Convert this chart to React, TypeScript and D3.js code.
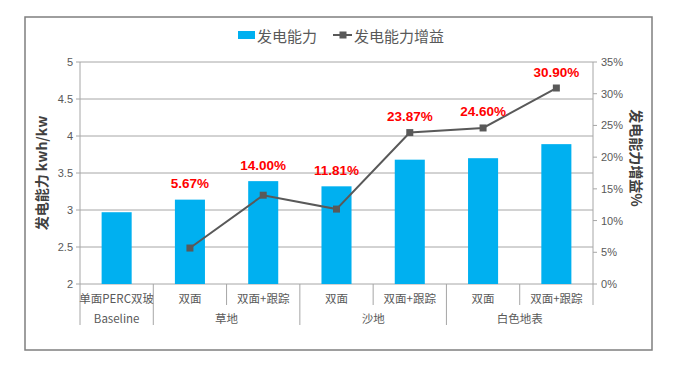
import React from 'react';
import * as d3 from 'd3';

// chart data
const categories = ['单面PERC双玻', '双面', '双面+跟踪', '双面', '双面+跟踪', '双面', '双面+跟踪'];
const groupNames = ['Baseline', '草地', '沙地', '白色地表'];
const groupSpans = [1, 2, 2, 2];
const capability = [2.97, 3.14, 3.39, 3.32, 3.68, 3.70, 3.89];
// gain starts at the second category (baseline has none)
const gain: (number | null)[] = [null, 5.67, 14.0, 11.81, 23.87, 24.6, 30.9];
const leftTicks = [2, 2.5, 3, 3.5, 4, 4.5, 5];
const rightTicks = [0, 5, 10, 15, 20, 25, 30, 35];

const W = 674;
const H = 368;
const plot = { left: 80, right: 593, top: 62, bottom: 284 };

const BLUE = '#00B0F0';
const GREY = '#595959';
const GRID = '#A6A6A6';
const FONT = '"Liberation Sans", Arial, "Noto Sans CJK SC", sans-serif';
const CJK = '"Noto Sans CJK SC", "Liberation Sans", sans-serif';

export default function App() {
    const x = d3.scaleBand<number>()
        .domain(d3.range(categories.length))
        .range([plot.left, plot.right])
        .paddingInner(0.59)
        .paddingOuter(0.295);
    const step = x.step();
    const cx = (i: number) => (x(i) as number) + x.bandwidth() / 2;

    const yL = d3.scaleLinear().domain([2, 5]).range([plot.bottom, plot.top]);
    const yR = d3.scaleLinear().domain([0, 35]).range([plot.bottom, plot.top]);

    const linePts = gain
        .map((g, i) => ({ i, g }))
        .filter(d => d.g !== null) as { i: number; g: number }[];

    const line = d3.line<{ i: number; g: number }>()
        .x(d => cx(d.i))
        .y(d => yR(d.g));

    // group boundaries (category index where each group starts)
    const groupStarts = groupSpans.map((_, k) => d3.sum(groupSpans.slice(0, k)));
    const boundaryX = (idx: number) => plot.left + idx * step;

    return (
        <div style={{ position: 'absolute', left: 0, top: 0 }}>
            <svg width={W} height={H} style={{ display: 'block', background: '#fff' }}>
                {/* outer frame */}
                <rect x={25} y={17} width={627} height={333} fill="none" stroke="#7F7F7F" strokeWidth={1.5} />

                {/* legend */}
                <g fontFamily={CJK} fontSize={15} fill={GREY}>
                    <rect x={238} y={31} width={17} height={8} fill={BLUE} />
                    <text x={257} y={35} dominantBaseline="central">发电能力</text>
                    <line x1={333} x2={352} y1={35} y2={35} stroke={GREY} strokeWidth={2} />
                    <rect x={339.5} y={31.5} width={7} height={7} fill={GREY} />
                    <text x={354} y={35} dominantBaseline="central">发电能力增益</text>
                </g>

                {/* gridlines */}
                {leftTicks.map(t => (
                    <line key={'g' + t} x1={plot.left} x2={plot.right} y1={yL(t)} y2={yL(t)}
                        stroke={GRID} strokeWidth={1} />
                ))}

                {/* left axis */}
                <line x1={plot.left} x2={plot.left} y1={plot.top} y2={325} stroke={GRID} />
                {leftTicks.map(t => (
                    <g key={'l' + t}>
                        <line x1={plot.left - 4} x2={plot.left} y1={yL(t)} y2={yL(t)} stroke={GRID} />
                        <text x={plot.left - 7} y={yL(t)} textAnchor="end" dominantBaseline="central"
                            fontFamily={FONT} fontSize={11} fill={GREY}>{t}</text>
                    </g>
                ))}
                <text transform={`translate(41,${(plot.top + plot.bottom) / 2}) rotate(-90)`}
                    textAnchor="middle" dominantBaseline="central" fontFamily={CJK} fontWeight="bold"
                    fontSize={14} fill="#404040">发电能力 kwh/kw</text>

                {/* right axis */}
                <line x1={plot.right} x2={plot.right} y1={plot.top} y2={305} stroke={GRID} />
                {rightTicks.map(t => (
                    <g key={'r' + t}>
                        <line x1={plot.right} x2={plot.right + 4} y1={yR(t)} y2={yR(t)} stroke={GRID} />
                        <text x={plot.right + 8} y={yR(t)} dominantBaseline="central"
                            fontFamily={FONT} fontSize={11} fill={GREY}>{t}%</text>
                    </g>
                ))}
                <text transform={`translate(637,158) rotate(90)`}
                    textAnchor="middle" dominantBaseline="central" fontFamily={CJK} fontWeight="bold"
                    fontSize={14} fill="#404040">发电能力增益%</text>

                {/* bars */}
                {capability.map((v, i) => (
                    <rect key={'b' + i} x={x(i)} y={yL(v)} width={x.bandwidth()} height={yL(2) - yL(v)} fill={BLUE} />
                ))}

                {/* category axis: first row */}
                {categories.map((c, i) => (
                    <text key={'c' + i} x={cx(i)} y={298} textAnchor="middle" dominantBaseline="central"
                        fontFamily={CJK} fontSize={11.5} fill={GREY}>{c}</text>
                ))}
                {d3.range(1, categories.length).map(i => (
                    groupStarts.includes(i) ? null :
                        <line key={'s' + i} x1={boundaryX(i)} x2={boundaryX(i)} y1={plot.bottom} y2={305} stroke={GRID} />
                ))}
                {/* second row: groups */}
                {groupNames.map((g, k) => {
                    const a = boundaryX(groupStarts[k]);
                    const b = boundaryX(groupStarts[k] + groupSpans[k]);
                    return (
                        <g key={'gr' + k}>
                            {k > 0 && <line x1={a} x2={a} y1={plot.bottom} y2={325} stroke={GRID} />}
                            <text x={(a + b) / 2} y={318} textAnchor="middle" dominantBaseline="central"
                                fontFamily={CJK} fontSize={11.5} fill={GREY}>{g}</text>
                        </g>
                    );
                })}

                {/* gain line */}
                <path d={line(linePts) || ''} fill="none" stroke={GREY} strokeWidth={2} />
                {linePts.map(d => (
                    <rect key={'m' + d.i} x={cx(d.i) - 3.5} y={yR(d.g) - 3.5} width={7} height={7} fill={GREY} />
                ))}

                {/* gain labels */}
                {linePts.map(d => {
                    const top = Math.min(yL(capability[d.i]), yR(d.g));
                    return (
                        <text key={'t' + d.i} x={cx(d.i)} y={top - 16} textAnchor="middle" dominantBaseline="central"
                            fontFamily={FONT} fontWeight="bold" fontSize={13.5} fill="#FF0000">
                            {d.g.toFixed(2)}%
                        </text>
                    );
                })}
            </svg>
        </div>
    );
}
